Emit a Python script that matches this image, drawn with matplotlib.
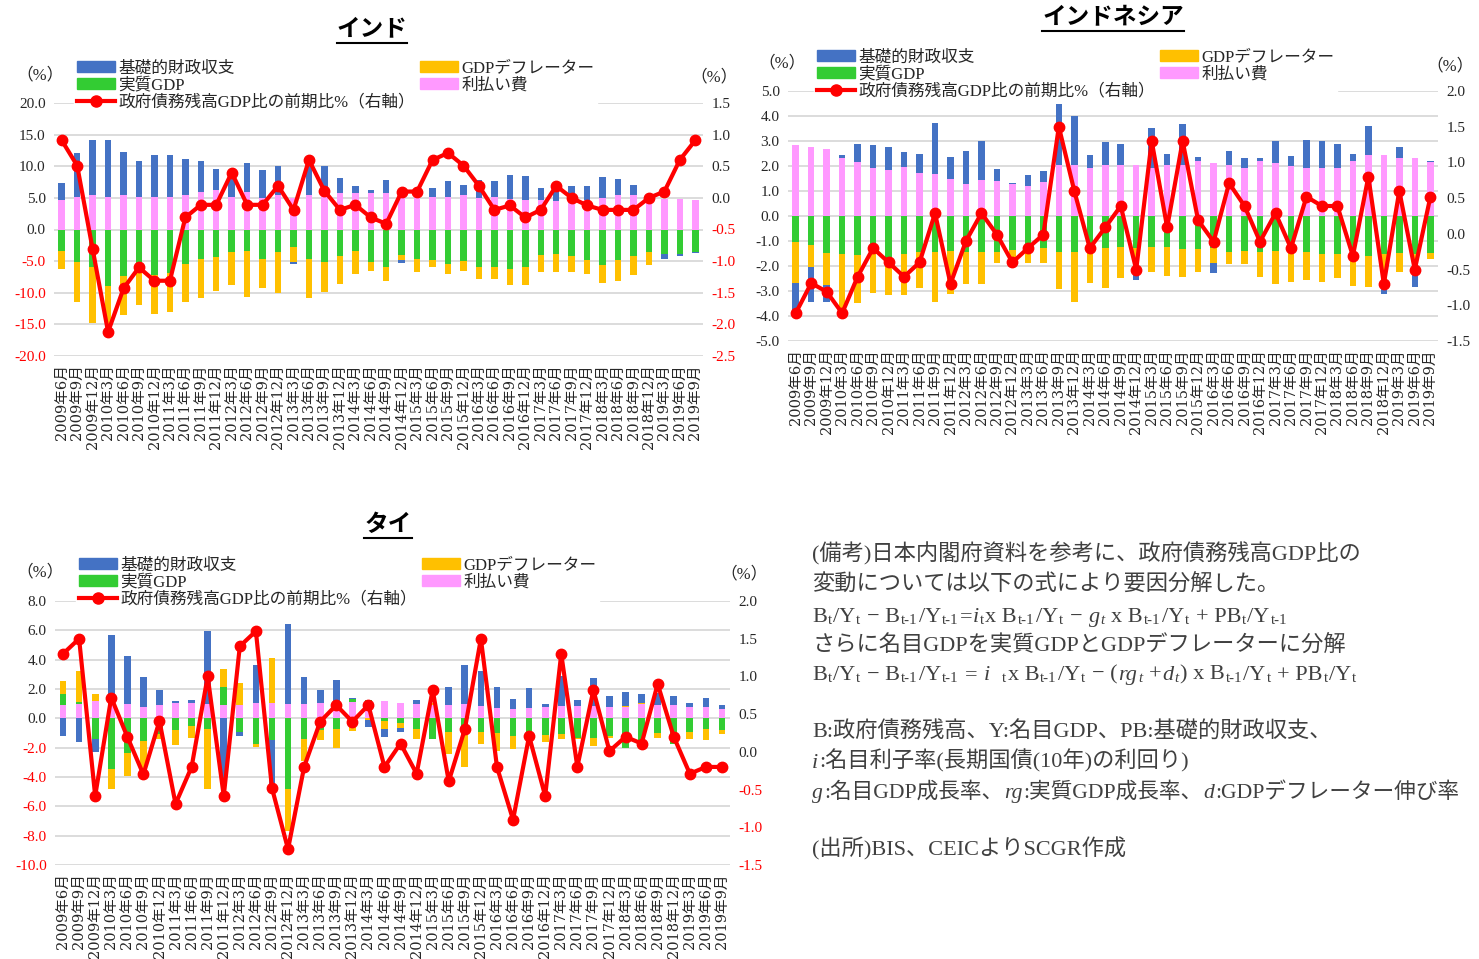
import numpy as np
import matplotlib
matplotlib.use('Agg')
import matplotlib.pyplot as plt
from matplotlib.lines import Line2D
from matplotlib.patches import Patch

plt.rcParams['font.family'] = ['Liberation Serif', 'Noto Sans CJK JP']
plt.rcParams['axes.unicode_minus'] = False

# 四半期ラベル
quarters = (['2009年6月', '2009年9月', '2009年12月']
            + [f'{y}年{m}月' for y in range(2010, 2019) for m in (3, 6, 9, 12)]
            + ['2019年3月', '2019年6月', '2019年9月'])

# インド
ind_pink = [4.6, 5.2, 5.4, 5.2, 5.4, 5.2, 5.2, 5.2, 5.4, 6.0, 6.2, 5.2, 6.0, 4.95,
            5.4, 4.95, 5.4, 5.4, 5.7, 5.7, 5.7, 5.7, 5.2, 5.6, 5.2, 5.2, 5.4, 5.05,
            5.2, 4.8, 4.6, 4.6, 4.5, 5.0, 4.6, 5.05, 5.4, 5.4, 4.35, 4.8, 4.8, 4.6]
ind_blue = [2.7, 6.9, 8.7, 8.9, 6.8, 5.7, 6.6, 6.6, 5.7, 4.8, 3.4, 3.3, 4.5, 4.4,
            4.6, -0.4, 4.7, 4.6, 2.5, 1.2, 0.6, 2.1, -0.4, 0.6, 1.3, 2.5, 1.65, 2.75,
            2.5, 3.8, 3.8, 2.0, 1.6, 1.8, 2.2, 3.2, 2.55, 1.6, 0.0, -0.8, -0.4, -0.2]
ind_green = [-3.35, -5.2, -5.85, -9.0, -7.3, -6.0, -7.2, -6.8, -5.4, -4.7, -4.3, -3.6,
             -3.35, -4.7, -3.6, -2.7, -4.7, -5.2, -4.25, -3.35, -5.2, -5.85, -4.0, -4.7,
             -4.9, -5.4, -4.95, -6.0, -5.85, -6.2, -5.85, -4.0, -3.8, -4.25, -4.9, -5.6,
             -4.9, -4.25, -3.55, -3.8, -3.8, -3.55]
ind_yellow = [-2.9, -6.3, -9.0, -6.0, -6.2, -5.9, -6.1, -6.3, -6.1, -6.1, -5.4, -5.2,
              -7.3, -4.5, -6.4, -2.4, -6.1, -4.7, -4.35, -3.7, -1.3, -2.25, -0.9, -1.95,
              -1.1, -1.6, -1.55, -1.85, -2.0, -2.5, -2.85, -2.75, -2.95, -2.5, -2.1, -2.9,
              -3.2, -2.9, -2.0, 0.0, 0.0, 0.0]
ind_line = [0.91, 0.51, -0.81, -2.12, -1.43, -1.10, -1.31, -1.31, -0.31, -0.11, -0.11,
            0.40, -0.11, -0.11, 0.19, -0.19, 0.60, 0.11, -0.19, -0.11, -0.31, -0.41, 0.10,
            0.10, 0.60, 0.71, 0.51, 0.19, -0.19, -0.12, -0.31, -0.19, 0.19, 0.00, -0.12,
            -0.19, -0.19, -0.19, 0.00, 0.10, 0.60, 0.91]

# インドネシア
idn_pink = [2.84, 2.77, 2.67, 2.33, 2.17, 1.93, 1.83, 1.96, 1.73, 1.69, 1.47, 1.29, 1.44,
            1.40, 1.27, 1.21, 1.35, 2.04, 2.04, 1.93, 2.04, 2.04, 2.04, 1.91, 2.04, 2.04,
            2.21, 2.13, 2.04, 1.93, 2.21, 2.11, 2.00, 1.93, 1.93, 1.93, 2.21, 2.44, 2.44,
            2.33, 2.33, 2.17]
idn_blue = [-1.2, -1.42, -0.69, 0.1, 0.71, 0.91, 0.95, 0.59, 0.76, 2.04, 0.91, 1.30, 1.56,
            0.48, 0.04, 0.43, 0.45, 2.43, 1.97, 0.51, 0.91, 0.84, -0.47, 1.60, 0.45, 1.63,
            0.17, -0.37, 0.56, 0.40, 0.12, 0.89, 0.39, 1.13, 1.07, 0.95, 0.28, 1.17, -0.36,
            0.44, -0.89, 0.04]
idn_green = [-1.03, -1.16, -1.49, -1.53, -1.56, -1.43, -1.69, -1.53, -1.43, -1.43, -1.40,
             -1.43, -1.45, -1.43, -1.36, -1.29, -1.29, -1.43, -1.43, -1.43, -1.29, -1.23,
             -1.27, -1.23, -1.23, -1.33, -1.32, -1.27, -1.43, -1.40, -1.43, -1.40, -1.49,
             -1.45, -1.53, -1.53, -1.67, -1.59, -1.53, -1.49, -1.53, -1.49]
idn_yellow = [-1.66, -0.87, -1.27, -2.16, -1.93, -1.63, -1.47, -1.63, -1.46, -2.02, -1.72,
              -1.29, -1.27, -0.46, -0.33, -0.60, -0.60, -1.50, -2.02, -1.24, -1.60, -1.26,
              -0.82, -1.00, -1.17, -1.12, -0.91, -0.62, -0.47, -0.53, -1.02, -1.32, -1.14,
              -1.11, -1.10, -0.96, -1.13, -1.26, -1.23, -0.74, -0.43, -0.23]
idn_line = [-1.11, -0.69, -0.81, -1.11, -0.60, -0.20, -0.40, -0.60, -0.40, 0.29, -0.70,
            -0.10, 0.29, -0.01, -0.40, -0.20, -0.01, 1.50, 0.60, -0.20, 0.09, 0.39, -0.50,
            1.30, 0.09, 1.30, 0.19, -0.11, 0.71, 0.39, -0.11, 0.29, -0.20, 0.52, 0.39, 0.39,
            -0.31, 0.80, -0.70, 0.60, -0.50, 0.51]

# タイ
tha_pink = [0.91, 1.0, 1.18, 1.0, 1.0, 0.77, 0.91, 1.07, 1.07, 1.0, 0.91, 0.91, 1.07, 1.07,
            1.0, 1.0, 1.07, 0.91, 1.14, 1.07, 1.18, 1.07, 1.0, 0.91, 0.91, 0.95, 0.84, 0.73,
            0.61, 0.68, 0.77, 0.84, 0.84, 0.84, 0.77, 0.77, 0.95, 0.91, 0.91, 0.77, 0.77, 0.61]
tha_blue = [-1.2, -1.61, -0.86, 4.66, 3.25, 2.07, 1.0, 0.11, 0.16, 4.95, -4.3, -0.3, 2.57,
            -3.23, 5.45, 1.84, 0.84, 1.7, 0.11, -0.45, -0.5, -0.27, 0.23, 0.0, 1.23, 2.68,
            2.39, 1.41, 0.68, 1.36, 0.23, 2.05, 0.39, 1.89, 0.75, 0.9, 0.64, 0.84, 0.61, 0.3,
            0.64, 0.3]
tha_green = [0.73, 0.14, -1.43, -3.48, -2.34, -1.55, -1.05, -0.82, -0.52, -0.75, 1.23, -0.9,
             -1.75, -1.5, -4.84, -1.43, -0.82, -0.75, 0.16, 0.2, -0.2, -0.3, -0.75, -1.43,
             -0.91, -1.05, -0.91, -0.98, -1.2, -1.55, -1.14, -1.05, -1.32, -1.32, -1.2, -2.0,
             -1.95, -0.98, -1.73, -0.91, -0.75, -0.82]
tha_yellow = [0.91, 2.09, 0.5, -1.36, -1.59, -1.82, -0.39, -1.0, -0.8, -4.09, 1.2, 1.52,
              -0.2, 3.07, -2.84, -1.48, -0.68, -1.25, -0.86, -0.14, -0.55, -0.34, -0.68,
              0.15, -1.5, -2.27, -0.82, -1.25, -0.91, 0.0, -0.45, -0.39, -0.11, -0.57, -0.16,
              0.1, 0.08, -0.34, 0.0, -0.52, -0.75, -0.27]
tha_line = [1.30, 1.50, -0.585, 0.72, 0.20, -0.30, 0.41, -0.69, -0.20, 1.00, -0.585, 1.40,
            1.60, -0.48, -1.29, -0.20, 0.40, 0.62, 0.40, 0.62, -0.20, 0.11, -0.29, 0.82,
            -0.39, 0.30, 1.50, -0.20, -0.90, 0.21, -0.585, 1.30, -0.20, 0.82, 0.01, 0.20,
            0.11, 0.90, 0.20, -0.29, -0.20, -0.20]

C_BLUE = '#4472C4'
C_GREEN = '#33CC33'
C_YELLOW = '#FFC000'
C_PINK = '#FF99FF'
C_RED = '#FF0000'
TXT = '#262626'
XTICK_FONT = ['DejaVu Serif', 'Noto Sans CJK JP']

W, H = 1479, 959
fig = plt.figure(figsize=(W / 100, H / 100), dpi=100)
renderer = fig.canvas.get_renderer()


def px(x, y):
    return x / W, 1 - y / H


def draw_panel(rect, pink, blue, green, yellow, line, yticks, yticks2, red_neg,
               title, title_xy, legend_xy, pct_left, pct_right):
    ax = fig.add_axes(rect)
    x = np.arange(len(quarters))
    pos = np.zeros(len(x))
    neg = np.zeros(len(x))
    # 積み上げ順: 利払い費, 実質GDP, GDPデフレーター, 基礎的財政収支
    for vals, c in [(pink, C_PINK), (green, C_GREEN), (yellow, C_YELLOW), (blue, C_BLUE)]:
        v = np.asarray(vals, dtype=float)
        bottom = np.where(v >= 0, pos, neg)
        ax.bar(x, v, 0.42, bottom=bottom, color=c, linewidth=0)
        pos += np.clip(v, 0, None)
        neg += np.clip(v, None, 0)

    ax.set_xlim(-0.5, len(x) - 0.5)
    ax.set_ylim(yticks[0], yticks[-1])
    ax.set_yticks(yticks)
    ax.set_yticklabels([f'{v:.1f}' for v in yticks], fontsize=11)
    ax.set_xticks(x)
    ax.set_xticklabels(quarters, rotation=90, fontsize=10.5, family=XTICK_FONT)
    ax.yaxis.grid(True, color='#D9D9D9', linewidth=1.3)
    ax.set_axisbelow(True)
    for s in ax.spines.values():
        s.set_visible(False)
    ax.tick_params(length=0, pad=6, colors=TXT)

    ax2 = ax.twinx()
    ax2.plot(x, line, color=C_RED, lw=3, marker='o', ms=7.5, zorder=5)
    ax2.set_ylim(yticks2[0], yticks2[-1])
    ax2.set_yticks(yticks2)
    ax2.set_yticklabels([f'{v:.1f}' for v in yticks2], fontsize=11)
    for s in ax2.spines.values():
        s.set_visible(False)
    ax2.tick_params(length=0, pad=6, colors=TXT)

    if red_neg:
        for lab, v in zip(ax.get_yticklabels(), yticks):
            if v < 0:
                lab.set_color(C_RED)
        for lab, v in zip(ax2.get_yticklabels(), yticks2):
            if v < 0:
                lab.set_color(C_RED)

    handles = [Patch(color=C_BLUE), Patch(color=C_GREEN),
               Line2D([], [], color=C_RED, lw=3, marker='o', ms=8),
               Patch(color=C_YELLOW), Patch(color=C_PINK)]
    labels = ['基礎的財政収支', '実質GDP', '政府債務残高GDP比の前期比%（右軸）',
              'GDPデフレーター', '利払い費']
    leg = ax2.legend(handles, labels, ncol=2, loc='upper left',
                     bbox_to_anchor=px(*legend_xy), bbox_transform=fig.transFigure,
                     frameon=True, facecolor='white', edgecolor='white', framealpha=1,
                     fancybox=False, borderpad=0.15, handlelength=2.3, handleheight=0.6,
                     handletextpad=0.2, labelspacing=0.05, columnspacing=0.3,
                     fontsize=12, borderaxespad=0)
    for t in leg.get_texts():
        t.set_color(TXT)

    fig.text(*px(*pct_left), '（%）', fontsize=12, ha='center', va='center', color=TXT)
    fig.text(*px(*pct_right), '（%）', fontsize=12, ha='center', va='center', color=TXT)
    tt = fig.text(*px(*title_xy), title, fontsize=17, fontweight='bold',
                  ha='center', va='center', color='black')
    return tt


titles = []
titles.append(draw_panel([54 / W, 1 - 356 / H, 649 / W, 253 / H],
                         ind_pink, ind_blue, ind_green, ind_yellow, ind_line,
                         np.arange(-20, 20.1, 5), np.arange(-2.5, 1.51, 0.5), True,
                         'インド', (372, 30), (74, 58), (40, 75), (714, 77)))
titles.append(draw_panel([788 / W, 1 - 341 / H, 650 / W, 250 / H],
                         idn_pink, idn_blue, idn_green, idn_yellow, idn_line,
                         np.arange(-5, 5.1, 1), np.arange(-1.5, 2.01, 0.5), False,
                         'インドネシア', (1113, 18), (814, 47), (782, 63), (1450, 66)))
titles.append(draw_panel([55 / W, 1 - 865 / H, 675 / W, 264 / H],
                         tha_pink, tha_blue, tha_green, tha_yellow, tha_line,
                         np.arange(-10, 8.1, 2), np.arange(-1.5, 2.01, 0.5), True,
                         'タイ', (388, 525), (76, 555), (40, 572), (744, 574)))

# 注記 (n: 通常, i: 斜体, s: 添字, is: 斜体添字)
NOTE_COLOR = '#404040'


def rich_line(x, y, pieces, size=16):
    size_px = size * 100 / 72
    base = y + 0.35 * size_px
    cur = x
    for s, kind in pieces:
        lead = len(s) - len(s.lstrip(' '))
        trail = len(s) - len(s.rstrip(' '))
        body = s.strip(' ')
        fs = size * 0.68 if 's' in kind else size
        cur += lead * 0.25 * size_px
        if body:
            dy = 0.12 * size_px if 's' in kind else 0
            t = fig.text(cur / W, 1 - (base + dy) / H, body, fontsize=fs,
                         style='italic' if 'i' in kind else 'normal',
                         ha='left', va='baseline', color=NOTE_COLOR)
            cur += t.get_window_extent(renderer).width + 1
        cur += trail * 0.25 * size_px


notes = [
    (553, 16, [('(備考)日本内閣府資料を参考に、政府債務残高GDP比の', 'n')]),
    (582, 16, [('変動については以下の式により要因分解した。', 'n')]),
    (614, 16, [('B', 'n'), ('t', 's'), ('/Y', 'n'), ('t', 's'), (' − B', 'n'), ('t-1', 's'),
               ('/Y', 'n'), ('t-1', 's'), ('=', 'n'), ('i', 'i'), ('t', 's'), ('x B', 'n'),
               ('t-1', 's'), ('/Y', 'n'), ('t', 's'), (' − ', 'n'), ('g', 'i'), ('t', 'is'),
               (' x B', 'n'), ('t-1', 's'), ('/Y', 'n'), ('t', 's'), (' + PB', 'n'), ('t', 's'),
               ('/Y', 'n'), ('t-1', 's')]),
    (643, 16, [('さらに名目GDPを実質GDPとGDPデフレーターに分解', 'n')]),
    (672, 16, [('B', 'n'), ('t', 's'), ('/Y', 'n'), ('t', 's'), (' − B', 'n'), ('t-1', 's'),
               ('/Y', 'n'), ('t-1', 's'), (' = ', 'n'), ('i', 'i'), (' ', 'n'), ('t', 's'),
               ('x B', 'n'), ('t-1', 's'), ('/Y', 'n'), ('t', 's'), (' − (', 'n'), ('rg', 'i'),
               ('t', 'is'), (' +', 'n'), ('d', 'i'), ('t', 'is'), (') x B', 'n'), ('t-1', 's'),
               ('/Y', 'n'), ('t', 's'), (' + PB', 'n'), ('t', 's'), ('/Y', 'n'), ('t', 's')]),
    (730, 16, [('B:政府債務残高、Y:名目GDP、PB:基礎的財政収支、', 'n')]),
    (760, 16, [('i', 'i'), (':名目利子率(長期国債(10年)の利回り)', 'n')]),
    (790, 15.6, [('g', 'i'), (':名目GDP成長率、', 'n'), ('rg', 'i'), (':実質GDP成長率、', 'n'),
                 ('d', 'i'), (':GDPデフレーター伸び率', 'n')]),
    (848, 16, [('(出所)BIS、CEICよりSCGR作成', 'n')]),
]
for y, size, pieces in notes:
    rich_line(812, y, pieces, size)

# タイトルの下線
for tt in titles:
    bb = tt.get_window_extent(renderer)
    y0 = bb.y0 - 2
    fig.add_artist(Line2D([bb.x0 / W, bb.x1 / W], [y0 / H, y0 / H],
                          color='black', lw=1.5, transform=fig.transFigure))

fig.savefig('out.png', dpi=100)
